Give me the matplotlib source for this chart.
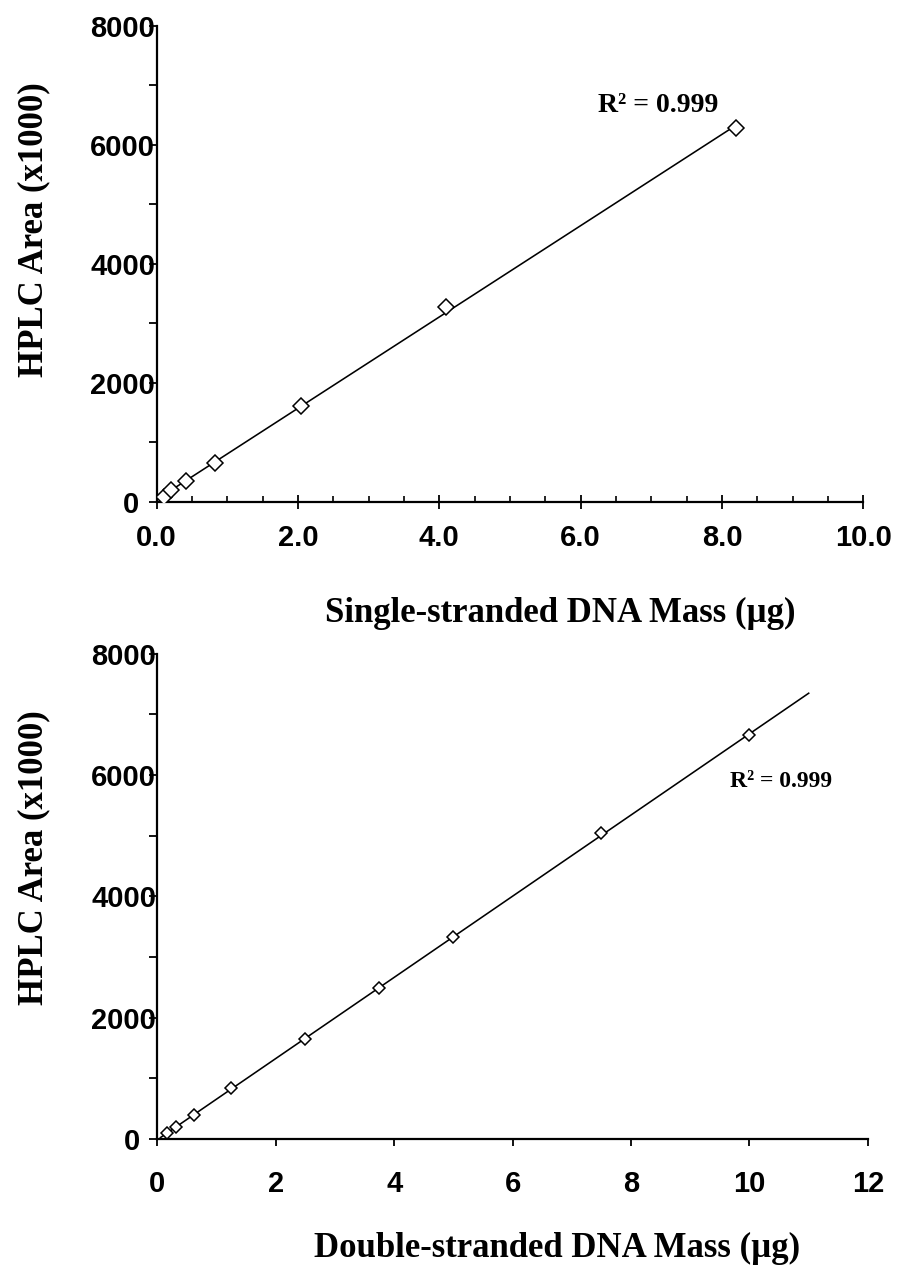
import numpy as np
import matplotlib.pyplot as plt
from matplotlib.ticker import MultipleLocator, FormatStrFormatter, FuncFormatter

# single-stranded standard curve
ss_mass = [0.1, 0.2, 0.41, 0.82, 2.05, 4.1, 8.2]
ss_area = [84, 191, 352, 651, 1606, 3278, 6281]

# double-stranded standard curve
ds_mass = [0.156, 0.3125, 0.625, 1.25, 2.5, 3.75, 5.0, 7.5, 10.0]
ds_area = [100, 201, 402, 837, 1653, 2490, 3333, 5047, 6660]

r2_text = "R\u00b2 = 0.999"
ylab = "HPLC Area (x1000)"
xlab_ss = "Single-stranded DNA Mass (\u00b5g)"
xlab_ds = "Double-stranded DNA Mass (\u00b5g)"

tick_font = {"family": "Liberation Sans", "weight": "bold", "size": 21}
lab_font = {"family": "Liberation Serif", "weight": "bold", "size": 25}


def yfmt(v, pos):
    # the zero label sits a bit further from the axis in the original
    if v == 0:
        return "0  "
    return "%d" % v


def style_axes(ax):
    for s in ["top", "right"]:
        ax.spines[s].set_visible(False)
    for s in ["left", "bottom"]:
        ax.spines[s].set_linewidth(1.6)
    ax.yaxis.set_major_locator(MultipleLocator(2000))
    ax.yaxis.set_minor_locator(MultipleLocator(1000))
    ax.yaxis.set_major_formatter(FuncFormatter(yfmt))
    ax.tick_params(axis="y", which="both", direction="out", length=6, width=1.3)
    ax.tick_params(axis="y", which="major", pad=-5)
    plt.setp(ax.get_xticklabels() + ax.get_yticklabels(), **tick_font)


fig = plt.figure(figsize=(9.05, 12.77), dpi=100)

# ---- top panel
ax1 = fig.add_axes([0.173, 0.607, 0.781, 0.373])
fit1 = np.polyfit(ss_mass, ss_area, 1)
xx1 = np.array([min(ss_mass), max(ss_mass)])
ax1.plot(xx1, np.polyval(fit1, xx1), color="black", lw=1.15, zorder=2)
ax1.plot(ss_mass, ss_area, ls="none", marker="D", ms=8, mfc="white",
         mec="black", mew=1.1, zorder=3)
ax1.set_xlim(0, 10)
ax1.set_ylim(0, 8000)
ax1.xaxis.set_major_locator(MultipleLocator(2))
ax1.xaxis.set_minor_locator(MultipleLocator(0.5))
ax1.xaxis.set_major_formatter(FormatStrFormatter("%.1f"))
ax1.tick_params(axis="x", which="major", direction="inout", length=9.5,
                width=1.3, pad=11)
ax1.tick_params(axis="x", which="minor", direction="in", length=4, width=1.2)
style_axes(ax1)
ax1.set_ylabel(ylab, fontdict=lab_font)
ax1.yaxis.set_label_coords(-0.151, 0.571)
ax1.set_xlabel(xlab_ss, fontdict=lab_font)
ax1.xaxis.set_label_coords(0.571, -0.200)
ax1.text(6.24, 6650, r2_text, family="Liberation Serif", weight="bold",
         fontsize=20, va="center", ha="left")

# ---- bottom panel
ax2 = fig.add_axes([0.174, 0.108, 0.785, 0.380])
fit2 = np.polyfit(ds_mass, ds_area, 1)
xx2 = np.array([0.05, 11.0])
ax2.plot(xx2, np.polyval(fit2, xx2), color="black", lw=1.15, zorder=2)
ax2.plot(ds_mass, ds_area, ls="none", marker="D", ms=6, mfc="white",
         mec="black", mew=1.1, zorder=3)
ax2.set_xlim(0, 12)
ax2.set_ylim(0, 8000)
ax2.xaxis.set_major_locator(MultipleLocator(2))
ax2.tick_params(axis="x", which="major", direction="out", length=5,
                width=1.3, pad=17)
style_axes(ax2)
ax2.set_ylabel(ylab, fontdict=lab_font)
ax2.yaxis.set_label_coords(-0.151, 0.58)
ax2.set_xlabel(xlab_ds, fontdict=lab_font)
ax2.xaxis.set_label_coords(0.562, -0.191)
ax2.text(9.67, 5900, r2_text, family="Liberation Serif", weight="bold",
         fontsize=17, va="center", ha="left")

fig.savefig("out.png", dpi=100)
